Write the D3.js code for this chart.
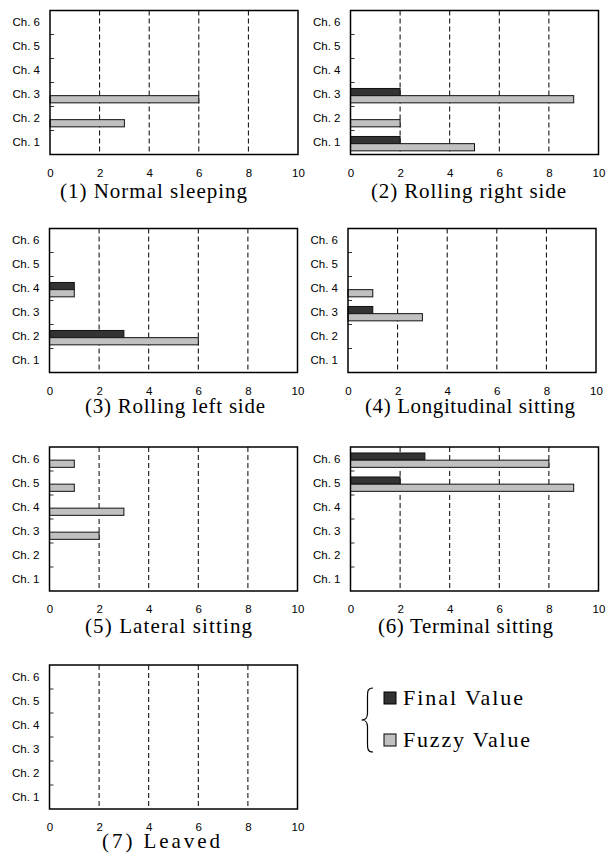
<!DOCTYPE html>
<html>
<head>
<meta charset="utf-8">
<script src="https://cdn.jsdelivr.net/npm/d3@7"></script>
<style>
  body { margin: 0; background: #fff; }
  svg { display: block; }
</style>
</head>
<body>
<div class="js-canvas"></div>
<script>
'use strict';

// categories (bottom to top) and axis ticks
const channels = ['Ch. 1', 'Ch. 2', 'Ch. 3', 'Ch. 4', 'Ch. 5', 'Ch. 6'];
const xTicks = [0, 2, 4, 6, 8, 10];
const gridTicks = [2, 4, 6, 8];

const titles = [
    '(1) Normal sleeping',
    '(2) Rolling right side',
    '(3) Rolling left side',
    '(4) Longitudinal sitting',
    '(5) Lateral sitting',
    '(6) Terminal sitting',
    '(7) Leaved'
];

// values per panel, Ch. 1 .. Ch. 6
const finalValues = [
    [0, 0, 0, 0, 0, 0],
    [2, 0, 2, 0, 0, 0],
    [0, 3, 0, 1, 0, 0],
    [0, 0, 1, 0, 0, 0],
    [0, 0, 0, 0, 0, 0],
    [0, 0, 0, 0, 2, 3],
    [0, 0, 0, 0, 0, 0]
];
const fuzzyValues = [
    [0, 3, 6, 0, 0, 0],
    [5, 2, 9, 0, 0, 0],
    [0, 6, 0, 1, 0, 0],
    [0, 0, 3, 1, 0, 0],
    [0, 0, 2, 3, 1, 1],
    [0, 0, 0, 0, 9, 8],
    [0, 0, 0, 0, 0, 0]
];

const seriesKeys = ['final', 'fuzzy'];
const legendLabels = ['Final Value', 'Fuzzy Value'];

const config = {
    width: 606,
    height: 865,
    plotWidth: 248,
    plotHeight: 144,
    colors: { final: '#333333', fuzzy: '#c0c0c0' },
    axisFamily: '"Liberation Sans", Arial, sans-serif',
    serifFamily: '"Liberation Serif", "Times New Roman", serif'
};

// panel placement (plot box left/top, title start, width and baseline)
const layout = [
    { left: 50,  top: 10.5,  tx: 60,  tw: 187, ty: 198 },
    { left: 350.5, top: 10.5, tx: 371, tw: 195, ty: 198 },
    { left: 49.5, top: 228.5, tx: 85,  tw: 180, ty: 413 },
    { left: 348, top: 228.5, tx: 365, tw: 210, ty: 413 },
    { left: 49.5, top: 447,   tx: 85,  tw: 167, ty: 633 },
    { left: 350.5, top: 447,  tx: 378, tw: 175, ty: 633 },
    { left: 49.5, top: 665,   tx: 102, tw: 118, ty: 848 }
];

const svg = d3.select('.js-canvas')
    .append('svg')
    .attr('width', config.width)
    .attr('height', config.height);

svg.append('rect')
    .attr('width', config.width)
    .attr('height', config.height)
    .attr('fill', '#fff');

const x = d3.scaleLinear()
    .domain([0, 10])
    .range([0, config.plotWidth]);

const y = d3.scaleBand()
    .domain(channels.slice().reverse())
    .range([0, config.plotHeight]);

// sub band inside each channel: final on top, fuzzy below
const ySub = d3.scaleBand()
    .domain(seriesKeys)
    .range([0, y.bandwidth()])
    .paddingInner(0)
    .paddingOuter(0.67)
    .align(0.62);

layout.forEach((pos, i) => {
    const g = svg.append('g')
        .attr('transform', `translate(${pos.left}, ${pos.top})`);

    // dashed grid lines
    g.selectAll('.grid')
        .data(gridTicks)
        .enter().append('line')
        .attr('x1', d => x(d))
        .attr('x2', d => x(d))
        .attr('y1', 0)
        .attr('y2', config.plotHeight)
        .attr('stroke', '#000')
        .attr('stroke-width', 1)
        .attr('stroke-dasharray', '5,3');

    // bars
    const rows = channels.map((c, k) => ({
        channel: c,
        final: finalValues[i][k],
        fuzzy: fuzzyValues[i][k]
    }));
    const bars = [];
    rows.forEach(r => seriesKeys.forEach(s => {
        if (r[s] > 0) bars.push({ channel: r.channel, key: s, value: r[s] });
    }));

    g.selectAll('.bar')
        .data(bars)
        .enter().append('rect')
        .attr('x', x(0))
        .attr('y', d => y(d.channel) + ySub(d.key))
        .attr('width', d => x(d.value) - x(0))
        .attr('height', ySub.bandwidth())
        .attr('fill', d => config.colors[d.key])
        .attr('stroke', '#111')
        .attr('stroke-width', 1);

    // boundary ticks on the left axis
    g.selectAll('.ytick')
        .data(channels.slice(0, 5))
        .enter().append('line')
        .attr('x1', 0)
        .attr('x2', 4)
        .attr('y1', d => y(d))
        .attr('y2', d => y(d))
        .attr('stroke', '#333')
        .attr('stroke-width', 1);

    // frame
    g.append('rect')
        .attr('width', config.plotWidth)
        .attr('height', config.plotHeight)
        .attr('fill', 'none')
        .attr('stroke', '#000')
        .attr('stroke-width', 1.5);

    // axes (labels only)
    const yAxis = d3.axisLeft(y).tickSize(0).tickPadding(10);
    const yAxisGroup = g.append('g')
        .call(yAxis)
        .attr('font-family', config.axisFamily)
        .attr('font-size', 11.5);
    yAxisGroup.select('.domain').remove();
    yAxisGroup.selectAll('text').attr('fill', '#000');

    const xAxis = d3.axisBottom(x).tickValues(xTicks).tickSize(0).tickPadding(14);
    const xAxisGroup = g.append('g')
        .attr('transform', `translate(0, ${config.plotHeight})`)
        .call(xAxis)
        .attr('font-family', config.axisFamily)
        .attr('font-size', 11.5);
    xAxisGroup.select('.domain').remove();
    xAxisGroup.selectAll('text').attr('fill', '#000');

    // panel title
    svg.append('text')
        .attr('x', pos.tx)
        .attr('y', pos.ty)
        .attr('textLength', pos.tw)
        .attr('lengthAdjust', 'spacing')
        .attr('font-family', config.serifFamily)
        .attr('font-size', 21)
        .attr('fill', '#000')
        .text(titles[i]);
});

// legend with brace
const legend = svg.append('g');

legend.append('path')
    .attr('d', 'M373,688 C367,688 367.5,692 367.5,700 L367.5,713 C367.5,718 366,720 361.5,720 C366,720 367.5,722 367.5,727 L367.5,740 C367.5,748 367,752 373,752')
    .attr('fill', 'none')
    .attr('stroke', '#000')
    .attr('stroke-width', 1.2);

const legendY = d3.scaleBand()
    .domain(seriesKeys)
    .range([677, 761]);

legend.selectAll('.swatch')
    .data(seriesKeys)
    .enter().append('rect')
    .attr('x', 384)
    .attr('y', d => legendY(d) + legendY.bandwidth() / 2 - 6)
    .attr('width', 12)
    .attr('height', 12)
    .attr('fill', d => config.colors[d])
    .attr('stroke', '#000')
    .attr('stroke-width', 1);

legend.selectAll('.label')
    .data(seriesKeys)
    .enter().append('text')
    .attr('x', 403)
    .attr('y', d => legendY(d) + legendY.bandwidth() / 2 + 6.5)
    .attr('textLength', (d, k) => k === 0 ? 120 : 127)
    .attr('lengthAdjust', 'spacing')
    .attr('font-family', config.serifFamily)
    .attr('font-size', 22)
    .attr('fill', '#000')
    .text((d, k) => legendLabels[k]);
</script>
</body>
</html>
